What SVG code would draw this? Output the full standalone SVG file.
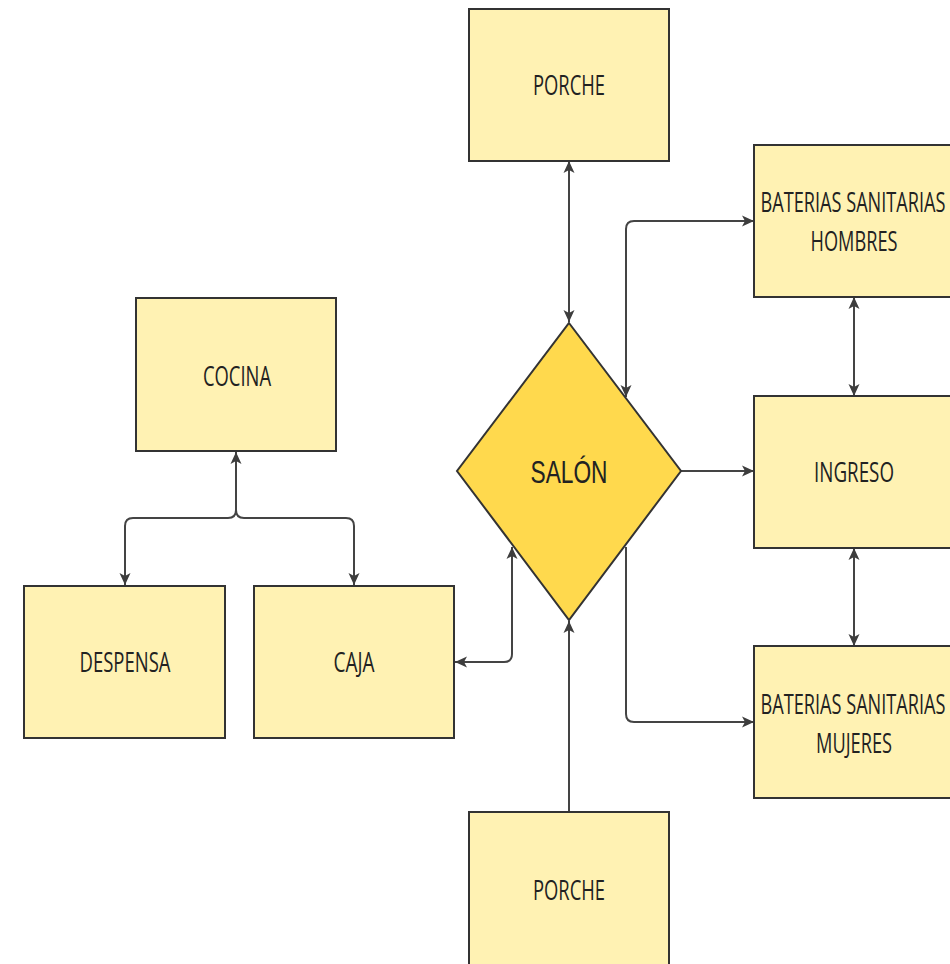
<svg xmlns="http://www.w3.org/2000/svg" width="950" height="964" viewBox="0 0 950 964">
<style>
.box{fill:#FFF2B3;stroke:#333;stroke-width:2}
.dia{fill:#FFD94D;stroke:#333;stroke-width:2}
.lbl{font-family:"Open Sans","Liberation Sans",sans-serif;font-size:27px;fill:#222;text-anchor:middle}
.big{font-family:"Liberation Sans",Arial,sans-serif;font-size:32px;fill:#222;text-anchor:middle}
.con path{fill:none;stroke:#444;stroke-width:2}
</style>
<defs>
<marker id="ah" viewBox="0 0 12 12" refX="12" refY="6" markerWidth="12" markerHeight="12" markerUnits="userSpaceOnUse" orient="auto-start-reverse">
<path d="M0,0.5 L12,6 L0,11.5 L3,6 Z" fill="#3d3d3d"/>
</marker>
</defs>
<rect width="950" height="964" fill="#fff"/>
<g class="con">
<path d="M569,161 V322" marker-start="url(#ah)" marker-end="url(#ah)"/>
<path d="M626,397 V229 Q626,221 634,221 H754" marker-start="url(#ah)" marker-end="url(#ah)"/>
<path d="M681,471 H754" marker-end="url(#ah)"/>
<path d="M854,297 V396" marker-start="url(#ah)" marker-end="url(#ah)"/>
<path d="M854,548 V646" marker-start="url(#ah)" marker-end="url(#ah)"/>
<path d="M626,547 V714 Q626,722 634,722 H754" marker-end="url(#ah)"/>
<path d="M569,812 V621" marker-end="url(#ah)"/>
<path d="M455,662 H504 Q512,662 512,654 V547" marker-start="url(#ah)" marker-end="url(#ah)"/>
<path d="M236,452 V510 Q236,518 228,518 H133 Q125,518 125,526 V585" marker-start="url(#ah)" marker-end="url(#ah)"/>
<path d="M236,510 Q236,518 244,518 H346 Q354,518 354,526 V585" marker-end="url(#ah)"/>
</g>
<g id="porche-top"><rect class="box" x="469" y="9" width="200" height="152"/><text class="lbl" x="569" y="95" textLength="72" lengthAdjust="spacingAndGlyphs">PORCHE</text></g>
<g id="banos-hombres"><rect class="box" x="754" y="145" width="200" height="152"/><text class="lbl" x="853" y="212" textLength="185" lengthAdjust="spacingAndGlyphs">BATERIAS SANITARIAS</text><text class="lbl" x="854" y="251" textLength="87" lengthAdjust="spacingAndGlyphs">HOMBRES</text></g>
<g id="cocina"><rect class="box" x="136" y="298" width="200" height="153"/><text class="lbl" x="237" y="386" textLength="68" lengthAdjust="spacingAndGlyphs">COCINA</text></g>
<g id="salon"><polygon class="dia" points="569,323 681,471 569,620 457,471"/><text class="big" x="569" y="483" textLength="77" lengthAdjust="spacingAndGlyphs">SALÓN</text></g>
<g id="ingreso"><rect class="box" x="754" y="396" width="200" height="152"/><text class="lbl" x="854" y="482" textLength="80" lengthAdjust="spacingAndGlyphs">INGRESO</text></g>
<g id="despensa"><rect class="box" x="24" y="586" width="201" height="152"/><text class="lbl" x="125" y="672" textLength="91" lengthAdjust="spacingAndGlyphs">DESPENSA</text></g>
<g id="caja"><rect class="box" x="254" y="586" width="200" height="152"/><text class="lbl" x="354" y="672" textLength="41" lengthAdjust="spacingAndGlyphs">CAJA</text></g>
<g id="banos-mujeres"><rect class="box" x="754" y="646" width="200" height="152"/><text class="lbl" x="853" y="714" textLength="185" lengthAdjust="spacingAndGlyphs">BATERIAS SANITARIAS</text><text class="lbl" x="854" y="753" textLength="76" lengthAdjust="spacingAndGlyphs">MUJERES</text></g>
<g id="porche-bottom"><rect class="box" x="469" y="812" width="200" height="160"/><text class="lbl" x="569" y="900" textLength="72" lengthAdjust="spacingAndGlyphs">PORCHE</text></g>
</svg>
